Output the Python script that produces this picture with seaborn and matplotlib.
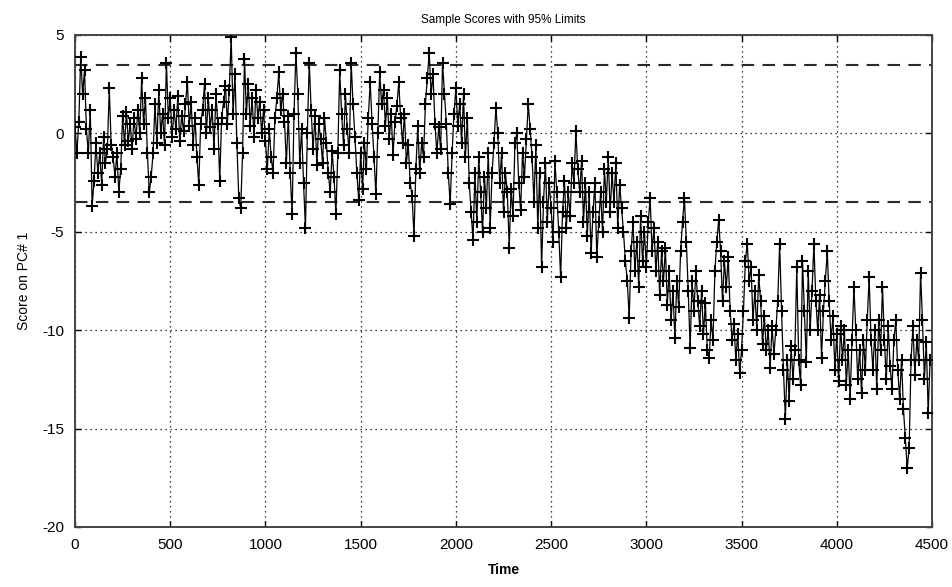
import numpy as np
import pandas as pd
import matplotlib
matplotlib.use("Agg")
import matplotlib.pyplot as plt
import seaborn as sns

time_step = 10
seg00 = [0.3, -1.0, 0.6, 3.9, 2.0, 3.2, 0.2, -1.0, 1.2, -3.7]
seg01 = [-2.4, -0.5, -2.0, -1.0, -2.6, -0.2, -1.5, -0.8, 2.3, -0.6]
seg02 = [-1.2, -2.2, -1.0, -3.0, -1.8, 0.9, -0.6, 1.1, -0.4, 0.5]
seg03 = [-0.8, 0.8, -0.3, 1.2, 0.0, 2.8, 0.5, 1.8, -1.0, -3.0]
seg04 = [-2.2, -1.0, 1.5, -0.5, 2.2, 0.0, 1.0, -0.6, 3.6, 0.8]
seg05 = [1.8, -0.2, 1.2, 0.2, 1.9, -0.4, 0.9, 0.1, 1.5, 2.6]
seg06 = [0.4, 1.6, -0.6, 0.8, -1.2, -2.6, 0.5, 1.2, 2.5, 0.0]
seg07 = [1.8, 0.3, 1.2, -0.8, 2.0, 0.5, -2.4, 0.8, 1.6, 2.4]
seg08 = [0.5, 2.2, 4.9, 1.0, 3.0, -0.5, -3.3, -3.8, -1.0, 3.8]
seg09 = [1.0, 2.5, 0.4, 1.8, -0.2, 2.2, 0.8, 1.6, 0.0, 1.2]
seg10 = [-0.4, -1.8, 0.2, -1.2, -2.0, 0.8, 1.8, 3.1, 1.2, 2.0]
seg11 = [0.6, -1.5, 0.9, -2.0, -4.1, 1.0, 4.1, 2.0, -1.5, 0.2]
seg12 = [-2.5, -4.8, 0.0, 3.6, 1.2, -0.8, 0.9, -1.6, 0.5, -0.3]
seg13 = [-1.5, 0.8, -0.5, -2.0, -3.0, -0.9, -2.2, -4.1, -1.0, 3.2]
seg14 = [1.0, -0.6, 2.0, 0.2, -1.0, 3.6, 1.5, -0.2, -2.0, -3.4]
seg15 = [-1.0, -2.8, -0.5, -1.8, 0.8, 2.6, 0.5, -1.2, -3.1, 0.0]
seg16 = [3.1, 1.5, 2.2, 0.4, 1.8, -0.3, 1.0, -1.1, 0.6, 1.4]
seg17 = [2.6, 0.8, -0.5, 1.0, -1.5, -0.6, -2.5, -3.2, -5.2, -1.8]
seg18 = [0.4, -2.0, -0.5, -1.2, 1.5, 2.8, 4.1, 2.0, 3.0, 0.5]
seg19 = [-1.0, 0.3, -0.8, 3.6, 2.0, 0.5, -2.0, -3.6, -1.0, 1.0]
seg20 = [2.3, 0.4, 1.5, -0.5, 2.0, -1.2, 0.8, -2.5, -4.0, -5.4]
seg21 = [-2.0, -4.5, -1.2, -3.0, -5.0, -2.2, -3.8, -1.0, -4.8, -2.0]
seg22 = [-0.5, 1.3, 0.0, -2.5, -1.0, -4.0, -2.0, -3.0, -5.8, -2.8]
seg23 = [-4.2, -0.5, 0.0, -2.5, -3.9, -1.0, -2.2, -0.3, 1.5, 0.2]
seg24 = [-1.2, -3.5, -0.6, -4.8, -2.0, -6.8, -3.5, -1.5, -4.5, -2.5]
seg25 = [-3.8, -5.5, -1.4, -3.0, -5.0, -7.3, -4.0, -2.4, -4.8, -3.0]
seg26 = [-4.2, -1.5, -2.5, 0.1, -1.8, -3.0, -1.4, -4.5, -2.5, -5.2]
seg27 = [-3.0, -6.1, -4.0, -2.5, -6.3, -4.5, -3.0, -5.0, -1.8, -3.5]
seg28 = [-1.2, -4.0, -2.0, -3.5, -1.5, -4.8, -2.6, -3.8, -5.0, -6.5]
seg29 = [-7.5, -9.4, -6.0, -4.5, -7.0, -5.5, -7.8, -4.2, -6.5, -5.0]
seg30 = [-6.8, -4.5, -3.3, -6.0, -4.8, -7.0, -5.5, -8.2, -6.0, -7.5]
seg31 = [-5.8, -8.7, -7.0, -9.5, -8.0, -10.4, -7.5, -8.8, -6.0, -4.5]
seg32 = [-3.3, -5.5, -8.0, -10.9, -7.5, -9.0, -7.0, -8.5, -9.8, -8.0]
seg33 = [-10.2, -8.6, -11.0, -11.4, -9.5, -10.5, -7.0, -5.5, -4.4, -6.0]
seg34 = [-8.5, -6.5, -7.8, -6.3, -9.0, -10.5, -9.7, -11.5, -10.2, -12.2]
seg35 = [-11.0, -9.0, -6.5, -5.6, -7.5, -6.8, -9.5, -8.0, -10.0, -7.2]
seg36 = [-8.5, -10.7, -9.3, -11.0, -10.0, -11.9, -9.8, -11.2, -10.0, -8.5]
seg37 = [-5.6, -9.0, -12.0, -14.5, -11.5, -13.6, -10.8, -12.5, -11.0, -6.8]
seg38 = [-11.5, -12.8, -6.5, -9.0, -11.6, -7.0, -10.0, -8.0, -5.6, -8.5]
seg39 = [-10.0, -8.2, -11.4, -9.0, -7.5, -6.0, -8.5, -10.5, -9.3, -12.0]
seg40 = [-10.2, -12.6, -9.8, -11.5, -10.0, -12.8, -11.0, -13.5, -10.5, -7.8]
seg41 = [-10.0, -12.5, -11.0, -13.2, -10.5, -12.0, -9.5, -7.3, -10.5, -12.0]
seg42 = [-10.0, -13.0, -9.5, -11.0, -7.8, -10.5, -12.5, -9.8, -11.8, -13.0]
seg43 = [-10.5, -9.5, -12.0, -13.5, -11.5, -14.0, -15.5, -17.0, -16.0, -11.5]
seg44 = [-9.8, -12.3, -10.5, -11.5, -7.1, -9.5, -12.5, -10.6, -14.2, -11.5]

limit_upper = 3.5
limit_lower = -3.5
x_ticks = [0, 500, 1000, 1500, 2000, 2500, 3000, 3500, 4000, 4500]
y_ticks = [-20, -15, -10, -5, 0, 5]
title = "Sample Scores with 95% Limits"
xlabel = "Time"
ylabel = "Score on PC# 1"

segments = [seg00, seg01, seg02, seg03, seg04, seg05, seg06, seg07, seg08, seg09,
            seg10, seg11, seg12, seg13, seg14, seg15, seg16, seg17, seg18, seg19,
            seg20, seg21, seg22, seg23, seg24, seg25, seg26, seg27, seg28, seg29,
            seg30, seg31, seg32, seg33, seg34, seg35, seg36, seg37, seg38, seg39,
            seg40, seg41, seg42, seg43, seg44]
scores = [v for s in segments for v in s]
times = [i * time_step for i in range(len(scores))]
df = pd.DataFrame({"Time": times, "Score": scores})

# ---- style ----
sns.set_theme(style="white")
plt.rcParams["font.family"] = ["Liberation Sans", "DejaVu Sans"]
plt.rcParams["axes.unicode_minus"] = False

fig = plt.figure(figsize=(9.52, 5.87), dpi=100)
ax = fig.add_axes([75 / 952, 1 - 527 / 587, 857 / 952, 492 / 587])

sns.lineplot(data=df, x="Time", y="Score", ax=ax, sort=False, estimator=None,
             color="black", linewidth=0.9, marker="+", markersize=8.5,
             markeredgewidth=1.5, markeredgecolor="black", zorder=3)

ax.axhline(limit_upper, color="#2a2a2a", linestyle=(0, (6, 4)), linewidth=1.5, zorder=2)
ax.axhline(limit_lower, color="#2a2a2a", linestyle=(0, (6, 4)), linewidth=1.5, zorder=2)

ax.set_xlim(0, 4500)
ax.set_ylim(-20, 5)
ax.set_xticks(x_ticks)
ax.set_yticks(y_ticks)
ax.grid(True, color="black", linestyle=(0, (1, 3)), linewidth=0.9)
ax.set_axisbelow(True)
for sp in ax.spines.values():
    sp.set_visible(True)
    sp.set_color("#444444")
    sp.set_linewidth(1.4)
ax.tick_params(axis="both", direction="in", length=4, width=1, colors="black",
               labelsize=11, pad=8, top=True, right=True, bottom=True, left=True)

ax.set_title(title, fontsize=8.5, pad=9, color="black")
ax.set_xlabel(xlabel, fontsize=10, fontweight="bold", labelpad=8, color="black")
ax.set_ylabel(ylabel, fontsize=10, labelpad=8, color="black")

fig.savefig("out.png", dpi=100, facecolor="white")
